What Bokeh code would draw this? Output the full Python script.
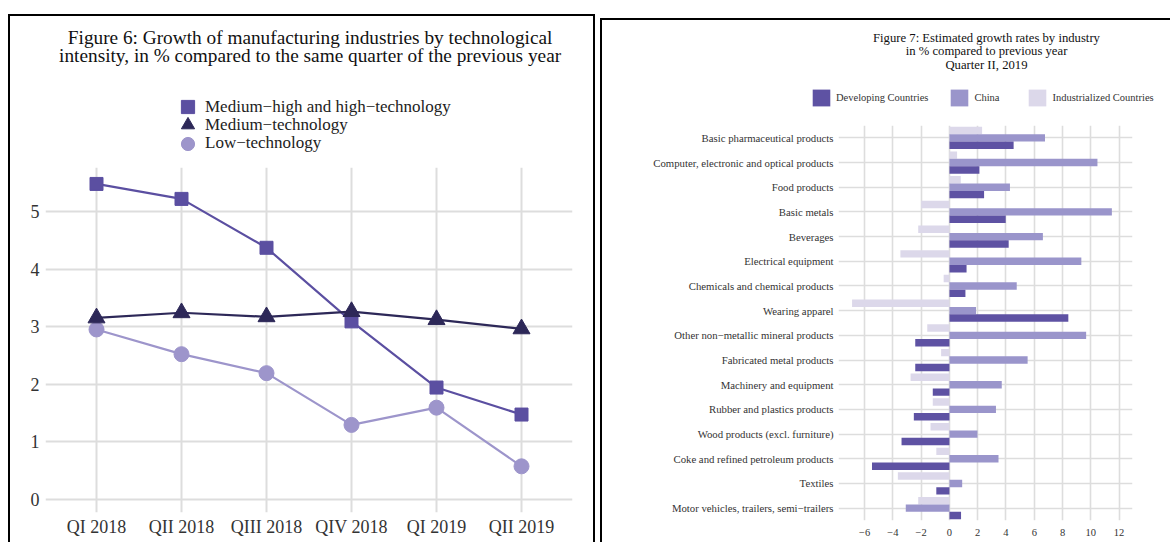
from bokeh.plotting import figure
from bokeh.models import (Range1d, FactorRange, FixedTicker, Legend, LegendItem,
                          Label, Spacer)
from bokeh.layouts import row, column
from bokeh.transform import dodge
from bokeh.embed import file_html
from bokeh.resources import INLINE

FONT = "Liberation Serif"

# ---------------- Figure 6 data ----------------
quarters = ["QI 2018", "QII 2018", "QIII 2018", "QIV 2018", "QI 2019", "QII 2019"]
med_high = [5.48, 5.22, 4.37, 3.09, 1.94, 1.47]
med_tech = [3.15, 3.24, 3.17, 3.26, 3.12, 2.96]
low_tech = [2.95, 2.52, 2.19, 1.29, 1.59, 0.57]
left_y_ticks = [0, 1, 2, 3, 4, 5]
series_names = ["Medium\u2212high and high\u2212technology",
                "Medium\u2212technology", "Low\u2212technology"]
title6 = ["Figure 6: Growth of manufacturing industries by technological",
          "intensity, in % compared to the same quarter of the previous year"]

# ---------------- Figure 7 data ----------------
industries = [
    "Basic pharmaceutical products",
    "Computer, electronic and optical products",
    "Food products",
    "Basic metals",
    "Beverages",
    "Electrical equipment",
    "Chemicals and chemical products",
    "Wearing apparel",
    "Other non\u2212metallic mineral products",
    "Fabricated metal products",
    "Machinery and equipment",
    "Rubber and plastics products",
    "Wood products (excl. furniture)",
    "Coke and refined petroleum products",
    "Textiles",
    "Motor vehicles, trailers, semi\u2212trailers",
]
developing = [4.54, 2.12, 2.45, 3.98, 4.19, 1.21, 1.13, 8.41, -2.42, -2.42,
              -1.18, -2.52, -3.39, -5.48, -0.93, 0.82]
china = [6.76, 10.47, 4.28, 11.49, 6.61, 9.33, 4.76, 1.88, 9.67, 5.53,
         3.70, 3.29, 1.98, 3.47, 0.90, -3.09]
industrialized = [2.31, 0.54, 0.80, -2.00, -2.21, -3.47, -0.41, -6.89, -1.57, -0.59,
                  -2.75, -1.18, -1.34, -0.93, -3.65, -2.21]
right_x_ticks = [-6, -4, -2, 0, 2, 4, 6, 8, 10, 12]
group_names = ["Developing Countries", "China", "Industrialized Countries"]
title7 = ["Figure 7: Estimated growth rates by industry",
          "in % compared to previous year", "Quarter II, 2019"]

# ---------------- colours ----------------
C_MH = "#5b4fa1"
C_MT = "#2d2858"
C_LT = "#9d95cb"
C_DEV = "#5e52a3"
C_CHN = "#9a95cb"
C_IND = "#dcd8ea"
GRID = "#dddddd"
TXT = "#333333"
BLACK = {"background-color": "#000000"}


def header(width, height):
    h = figure(width=width, height=height, output_backend="svg", toolbar_location=None,
               x_range=Range1d(0, width), y_range=Range1d(0, height),
               x_axis_type=None, y_axis_type=None, title=None, min_border=0,
               frame_align=False)
    h.outline_line_color = None
    return h


def style_axis(ax, size):
    ax.axis_line_color = None
    ax.major_tick_line_color = None
    ax.minor_tick_line_color = None
    ax.major_tick_out = 0
    ax.major_tick_in = 0
    ax.major_label_text_font = FONT
    ax.major_label_text_font_size = size
    ax.major_label_text_color = TXT


# ================= Figure 6 =================
W1 = 583
xs = list(range(len(quarters)))
h1 = header(W1, 151)
for txt, yy in zip(title6, [130.5, 112.0]):
    h1.add_layout(Label(x=299.6, y=yy, text=txt, text_align="center",
                        text_baseline="middle", text_font=FONT,
                        text_font_size="19.3px", text_color="#111111"))
# legend-only renderers (hidden in the header, drawn only as legend glyphs)
d_mh = h1.scatter(xs, med_high, marker="square", size=13, color=C_MH, visible=False)
d_mt = h1.scatter(xs, med_tech, marker="triangle", size=17, color=C_MT, visible=False)
d_lt = h1.scatter(xs, low_tech, marker="circle", size=15, color=C_LT, visible=False)
for name, rend, yy in zip(series_names, [d_mh, d_mt, d_lt], [44, 26, 7.5]):
    h1.add_layout(Legend(items=[LegendItem(label=name, renderers=[rend])],
                         location=(161, yy), orientation="vertical",
                         glyph_width=33, glyph_height=33, label_height=33,
                         label_standoff=1, label_text_font=FONT,
                         label_text_font_size="17px", label_text_color="#222222",
                         margin=0, padding=0, border_line_color=None,
                         background_fill_alpha=0, inactive_fill_alpha=0))

p1 = figure(width=W1, height=375, output_backend="svg", toolbar_location=None,
            x_range=Range1d(-0.6, 5.6), y_range=Range1d(-0.233, 5.766),
            min_border_left=35, min_border_right=21, min_border_top=0,
            min_border_bottom=30, title=None, frame_align=False)
p1.outline_line_color = None
style_axis(p1.xaxis[0], "18px")
style_axis(p1.yaxis[0], "18px")
p1.xaxis.ticker = FixedTicker(ticks=xs)
p1.xaxis.major_label_overrides = {i: q for i, q in zip(xs, quarters)}
p1.xaxis.major_label_standoff = 4
p1.yaxis.ticker = FixedTicker(ticks=left_y_ticks)
p1.yaxis.major_label_standoff = 6
p1.grid.grid_line_color = GRID
p1.grid.grid_line_width = 2

p1.line(xs, low_tech, color=C_LT, line_width=2.2)
p1.scatter(xs, low_tech, marker="circle", size=15, color=C_LT)
p1.line(xs, med_high, color=C_MH, line_width=2.2)
p1.scatter(xs, med_high, marker="square", size=13, color=C_MH)
p1.line(xs, med_tech, color=C_MT, line_width=2.2)
p1.scatter(xs, med_tech, marker="triangle", size=17, color=C_MT)

# ================= Figure 7 =================
W2 = 568
src = dict(cat=industries, pos=list(range(len(industries))),
           dev=developing, chn=china, ind=industrialized)
h2 = header(W2, 105)
for txt, yy in zip(title7, [88.0, 74.5, 61.0]):
    h2.add_layout(Label(x=384, y=yy, text=txt, text_align="center",
                        text_baseline="middle", text_font=FONT,
                        text_font_size="12.7px", text_color="#111111"))
d_dev = h2.hbar(y="pos", left=0, right="dev", height=0.3, source=src,
                fill_color=C_DEV, line_color=None, visible=False)
d_chn = h2.hbar(y="pos", left=0, right="chn", height=0.3, source=src,
                fill_color=C_CHN, line_color=None, visible=False)
d_ind = h2.hbar(y="pos", left=0, right="ind", height=0.3, source=src,
                fill_color=C_IND, line_color=None, visible=False)
h2.add_layout(Legend(items=[LegendItem(label=group_names[0], renderers=[d_dev]),
                            LegendItem(label=group_names[1], renderers=[d_chn]),
                            LegendItem(label=group_names[2], renderers=[d_ind])],
                     location=(208, 17), orientation="horizontal",
                     glyph_width=22, glyph_height=21, spacing=20, label_standoff=4,
                     label_width=32,
                     label_text_font=FONT, label_text_font_size="10.5px",
                     label_text_color=TXT, margin=0, padding=0,
                     border_line_color=None, background_fill_alpha=0,
                     inactive_fill_alpha=0))

cats_bottom_up = list(reversed(industries))
p2 = figure(width=W2, height=417, output_backend="svg", toolbar_location=None,
            x_range=Range1d(-7.85, 12.95),
            y_range=FactorRange(factors=cats_bottom_up, range_padding=0),
            min_border_left=236, min_border_right=38, min_border_top=0,
            min_border_bottom=22, title=None, frame_align=False)
p2.outline_line_color = None

p2.hbar(y=dodge("cat", 0.3, range=p2.y_range), left=0, right="ind",
        height=0.3, source=src, fill_color=C_IND, line_color=None)
p2.hbar(y=dodge("cat", 0.0, range=p2.y_range), left=0, right="chn",
        height=0.3, source=src, fill_color=C_CHN, line_color=None)
p2.hbar(y=dodge("cat", -0.3, range=p2.y_range), left=0, right="dev",
        height=0.3, source=src, fill_color=C_DEV, line_color=None)

style_axis(p2.xaxis[0], "10.5px")
style_axis(p2.yaxis[0], "10.75px")
p2.xaxis.ticker = FixedTicker(ticks=right_x_ticks)
p2.xaxis.major_label_overrides = {t: (("\u2212" + str(-t)) if t < 0 else str(t))
                                  for t in right_x_ticks}
p2.xaxis.major_label_standoff = 8
p2.yaxis.major_label_standoff = 5
p2.grid.grid_line_color = GRID
p2.grid.grid_line_width = 1.6

# ================= layout with panel frames =================
H1 = 151 + 375
H2 = 105 + 417
left_block = column(
    Spacer(width=587, height=14),
    Spacer(width=587, height=2, styles=BLACK),
    row(Spacer(width=2, height=H1, styles=BLACK), column(h1, p1),
        Spacer(width=2, height=H1, styles=BLACK)),
)
right_block = column(
    Spacer(width=570, height=18),
    Spacer(width=570, height=2, styles=BLACK),
    row(Spacer(width=2, height=H2, styles=BLACK), column(h2, p2)),
)
layout = row(Spacer(width=8, height=542), left_block,
             Spacer(width=5, height=542), right_block)

open("out.html", "w").write(file_html(layout, INLINE))
